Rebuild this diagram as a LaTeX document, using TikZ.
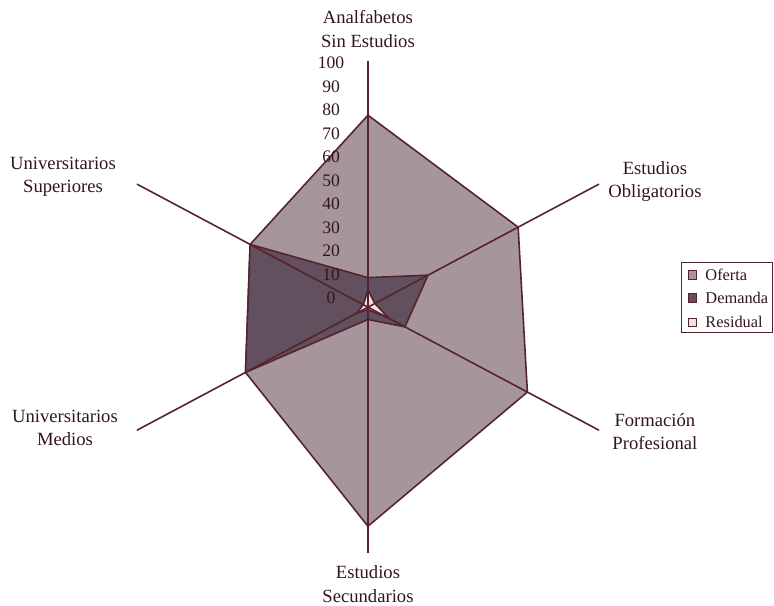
\documentclass[tikz,border=0pt]{standalone}
\usepackage{fontspec}
\setmainfont{Liberation Serif}
\usepackage{tikz}
\usetikzlibrary{calc}
\usepackage{xcolor}
\definecolor{ofertacol}{RGB}{166,149,154}
\definecolor{demandacol}{RGB}{98,80,94}
\definecolor{residualcol}{RGB}{246,224,222}
\definecolor{axiscol}{RGB}{85,35,45}
\definecolor{inkcol}{RGB}{50,22,28}

\begin{document}
\begin{tikzpicture}[x=0.02169cm,y=0.02cm,
  serie/.style={draw=axiscol,line width=0.9pt,line join=miter},
  axisline/.style={axiscol,line width=0.9pt},
  lbl/.style={align=center,text=inkcol,font=\fontsize{10.6}{13.3}\selectfont},
  tick/.style={text=inkcol,font=\fontsize{10}{12}\selectfont},
  lgd/.style={text=inkcol,inner sep=0pt,anchor=west,font=\fontsize{9.3}{11}\selectfont},
  keybox/.style={draw=axiscol,line width=0.5pt,minimum size=4.8pt,inner sep=0pt}]
% axis length & one percent
\newcommand{\axlen}{246}
\newcommand{\pc}{2.46}

\useasboundingbox (-339.3,-298) rectangle (374.4,307);
\coordinate (o) at (0,0);

% Series
\draw[serie,fill=ofertacol] (90:78*\pc)--(30:65*\pc)--(-30:69*\pc)--(-90:89*\pc)--(-150:53*\pc)--(150:51*\pc)--cycle;
\draw[serie,fill=demandacol] (90:12*\pc)--(30:26*\pc)--(-30:16*\pc)--(-90:5*\pc)--(-150:53*\pc)--(150:51*\pc)--cycle;
\draw[serie,fill=residualcol] (90:7*\pc)--(30:3*\pc)--(-30:9*\pc)--(-90:1*\pc)--(-150:5*\pc)--(150:2*\pc)--cycle;

% Axes
\foreach \a/\n in {90/1,30/2,-30/3,-90/4,-150/5,150/6}{
  \coordinate (ax\n) at (\a:\axlen);
  \draw[axisline] (o)--(ax\n);
}

% Scale
\foreach \v in {0,10,...,100}
  \node[tick] (tk\v) at (-34,9+2.35*\v) {\v};

% Category labels
\node[lbl] (analf) at (0,278) {Analfabetos\\Sin Estudios};
\node[lbl] (oblig) at (264.6,125.5) {Estudios\\Obligatorios};
\node[lbl] (fprof) at (264.6,-124.5) {Formación\\Profesional};
\node[lbl] (secun) at (0,-277) {Estudios\\Secundarios};
\node[lbl] (umed) at (-279.4,-120.5) {Universitarios\\Medios};
\node[lbl] (usup) at (-281.2,130) {Universitarios\\Superiores};

% Legend
\draw[axiscol,line width=0.6pt] (289.5,45) rectangle (373.4,-25);
\node[keybox,fill=ofertacol] (kof) at (299.2,32) {};
\node[lgd] (tof) at ($(kof.east)+(7.4,0)$) {Oferta};
\node[keybox,fill=demandacol] (kde) at (299.2,9) {};
\node[lgd] (tde) at ($(kde.east)+(7.4,0)$) {Demanda};
\node[keybox,fill=residualcol] (kre) at (299.2,-15) {};
\node[lgd] (tre) at ($(kre.east)+(7.4,0)$) {Residual};
\end{tikzpicture}
\end{document}
